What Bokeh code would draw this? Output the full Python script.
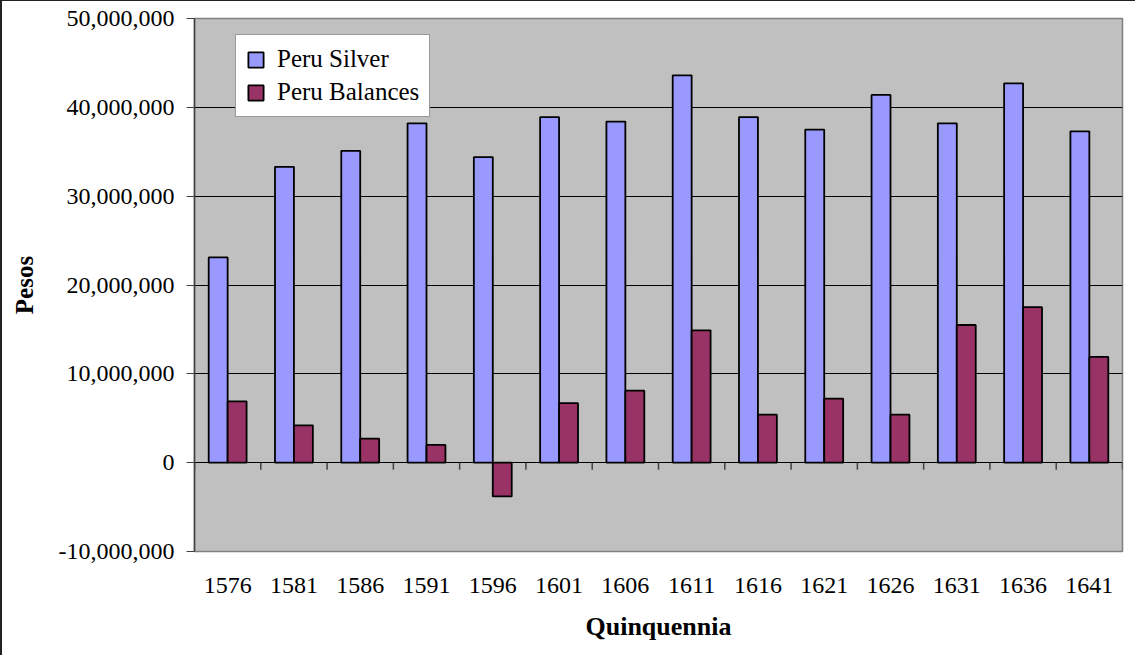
import numpy as np
from bokeh.plotting import figure
from bokeh.models import (ColumnDataSource, FixedTicker, NumeralTickFormatter,
                          Legend, LegendItem, Range1d)
from bokeh.transform import dodge
from bokeh.embed import file_html
from bokeh.resources import INLINE

years = ["1576", "1581", "1586", "1591", "1596", "1601", "1606",
         "1611", "1616", "1621", "1626", "1631", "1636", "1641"]
peru_silver = [23.1e6, 33.3e6, 35.1e6, 38.2e6, 34.4e6, 38.9e6, 38.4e6,
               43.6e6, 38.9e6, 37.5e6, 41.4e6, 38.2e6, 42.7e6, 37.3e6]
peru_balances = [6.9e6, 4.2e6, 2.7e6, 2.0e6, -3.8e6, 6.7e6, 8.1e6,
                 14.9e6, 5.4e6, 7.2e6, 5.4e6, 15.5e6, 17.5e6, 11.9e6]
y_ticks = [-10e6, 0, 10e6, 20e6, 30e6, 40e6, 50e6]

FONT = "Liberation Serif"
n = len(years)
idx = np.arange(n)
src = ColumnDataSource(dict(x=idx, silver=peru_silver, bal=peru_balances))

p = figure(width=1135, height=655, output_backend="svg", toolbar_location=None,
           x_range=Range1d(-0.5, n - 0.5), y_range=Range1d(y_ticks[0], y_ticks[-1]),
           min_border_left=192, min_border_right=15, min_border_top=17,
           min_border_bottom=105)
p.styles = {"border-left": "2px solid #222222", "border-top": "1px solid #222222"}
p.background_fill_color = "#C0C0C0"
p.border_fill_color = "white"
p.outline_line_color = "#808080"
p.outline_line_width = 1.5

bw = 1 / 3.5
r1 = p.vbar(x=dodge("x", -bw / 2, range=p.x_range), top="silver", bottom=0, width=bw,
            source=src, fill_color="#9999FF", line_color="black", line_width=1.8)
r2 = p.vbar(x=dodge("x", bw / 2, range=p.x_range), top="bal", bottom=0, width=bw,
            source=src, fill_color="#993366", line_color="black", line_width=1.8)

# category separator ticks on the zero line
bounds = np.arange(n + 1) - 0.5
p.ray(x=bounds, y=np.zeros(n + 1), length=7, length_units="screen",
      angle=-np.pi / 2, line_color="#404040", line_width=1.5)

# y axis
p.yaxis.ticker = FixedTicker(ticks=y_ticks)
p.yaxis.formatter = NumeralTickFormatter(format="0,0")
p.yaxis.axis_line_color = "#404040"
p.yaxis.axis_line_width = 1.5
p.yaxis.major_tick_line_color = "#404040"
p.yaxis.major_tick_out = 8
p.yaxis.major_tick_in = 0
p.yaxis.minor_tick_line_color = None
p.yaxis.major_label_text_font = FONT
p.yaxis.major_label_text_font_size = "24px"
p.yaxis.major_label_text_color = "black"
p.yaxis.major_label_standoff = 12
p.yaxis.axis_label = "Pesos"
p.yaxis.axis_label_text_font = FONT
p.yaxis.axis_label_text_font_size = "25px"
p.yaxis.axis_label_text_font_style = "bold"
p.yaxis.axis_label_text_color = "black"
p.yaxis.axis_label_standoff = 18

# x axis (labels only)
p.xaxis.ticker = FixedTicker(ticks=list(idx))
p.xaxis.major_label_overrides = {int(i): y for i, y in zip(idx, years)}
p.xaxis.axis_line_color = None
p.xaxis.major_tick_line_color = None
p.xaxis.minor_tick_line_color = None
p.xaxis.major_label_text_font = FONT
p.xaxis.major_label_text_font_size = "24px"
p.xaxis.major_label_text_color = "black"
p.xaxis.major_label_standoff = 20
p.xaxis.axis_label = "Quinquennia"
p.xaxis.axis_label_text_font = FONT
p.xaxis.axis_label_text_font_size = "26px"
p.xaxis.axis_label_text_font_style = "bold"
p.xaxis.axis_label_text_color = "black"
p.xaxis.axis_label_standoff = 16

p.xgrid.grid_line_color = None
p.ygrid.ticker = FixedTicker(ticks=y_ticks)
p.ygrid.grid_line_color = "black"
p.ygrid.grid_line_width = 1

legend = Legend(items=[LegendItem(label="Peru Silver", renderers=[r1]),
                       LegendItem(label="Peru Balances", renderers=[r2])],
                location=(41, 434))
legend.label_text_font = FONT
legend.label_text_font_size = "25px"
legend.label_text_color = "black"
legend.glyph_width = 19
legend.glyph_height = 19
legend.label_standoff = 12
legend.spacing = 5
legend.padding = 10
legend.margin = 0
legend.border_line_color = "#333333"
legend.border_line_width = 1
legend.background_fill_color = "white"
legend.background_fill_alpha = 1
p.add_layout(legend)

open("out.html", "w").write(file_html(p, INLINE))
